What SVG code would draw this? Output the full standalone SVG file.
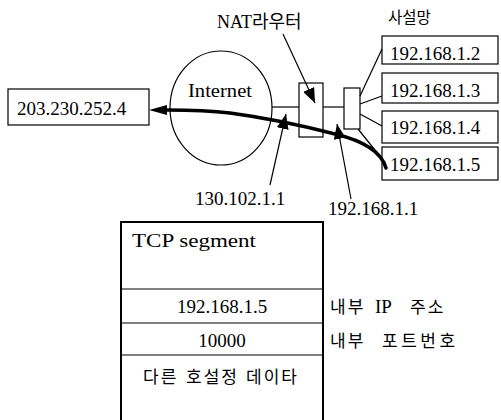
<svg xmlns="http://www.w3.org/2000/svg" width="501" height="420" viewBox="0 0 501 420">
<style>
.bg{fill:#fff}
.box{fill:#fff;stroke:#000;stroke-width:1.2}
.tcp{fill:none;stroke:#000;stroke-width:2}
.sep{stroke:#000;stroke-width:1.2}
.thin{fill:none;stroke:#000;stroke-width:1.2}
.thick{fill:none;stroke:#000;stroke-width:3.5;stroke-linecap:round}
.t{font-family:"Liberation Serif","Times New Roman",serif;font-size:19px;fill:#000}
.k{font-family:"Liberation Serif","Noto Sans CJK KR",sans-serif;font-size:18px;fill:#000}
.k1{font-family:"Noto Sans CJK KR",sans-serif;font-size:15.5px;fill:#000}
.k2{font-family:"Liberation Serif","Noto Sans CJK KR",sans-serif;font-size:17px;letter-spacing:2px;fill:#000}
.ip{font-size:19px;letter-spacing:0}
.wide{letter-spacing:3.5px}
</style>
<defs>
<marker id="ah" markerWidth="15" markerHeight="12" refX="15" refY="6" orient="auto" markerUnits="userSpaceOnUse"><path d="M0,0 L15,6 L0,12 z" fill="#000"/></marker>
<marker id="ahb" markerWidth="18" markerHeight="10" refX="0" refY="5" orient="auto" markerUnits="userSpaceOnUse"><path d="M0,0 L18,5 L0,10 z" fill="#000"/></marker>
</defs>
<rect class="bg" x="0" y="0" width="501" height="420"/>

<g id="internet">
<ellipse class="box" cx="221" cy="108" rx="51" ry="57"/>
<text class="t" x="188" y="97" textLength="64" lengthAdjust="spacingAndGlyphs">Internet</text>
</g>
<g id="host-remote">
<rect class="box" x="8" y="89" width="141" height="36"/>
<text class="t" x="17" y="115">203.230.252.4</text>
</g>
<g id="nat-router">
<rect class="box" x="299" y="83" width="24" height="54"/>
<text class="k" x="217" y="28">NAT라우터</text>
</g>
<g id="hub">
<rect class="box" x="344" y="88" width="16" height="41"/>
</g>
<g id="private-label">
<text class="k1" x="388" y="23">사설망</text>
</g>
<g id="host-2">
<rect class="box" x="382" y="36" width="116" height="28"/>
<text class="t" x="390" y="60">192.168.1.2</text>
</g>
<g id="host-3">
<rect class="box" x="382" y="73" width="116" height="30"/>
<text class="t" x="390" y="97">192.168.1.3</text>
</g>
<g id="host-4">
<rect class="box" x="382" y="111" width="116" height="32"/>
<text class="t" x="390" y="134">192.168.1.4</text>
</g>
<g id="host-5">
<rect class="box" x="382" y="147" width="116" height="33"/>
<text class="t" x="390" y="171">192.168.1.5</text>
</g>
<g id="label-public">
<text class="t" x="195" y="205">130.102.1.1</text>
</g>
<g id="label-private">
<text class="t" x="328" y="215">192.168.1.1</text>
</g>

<g id="connectors">
<line class="thin" x1="272" y1="107" x2="299" y2="107"/>
<line class="thin" x1="323" y1="107" x2="344" y2="107"/>
<line class="thin" x1="360" y1="96" x2="382" y2="49"/>
<line class="thin" x1="360" y1="104" x2="382" y2="96"/>
<line class="thin" x1="360" y1="114" x2="382" y2="126"/>
<line class="thin" x1="358" y1="129" x2="383" y2="160"/>
<line class="thin" x1="283" y1="34" x2="315" y2="103" marker-end="url(#ah)"/>
<line class="thin" x1="270" y1="185" x2="286" y2="114" marker-end="url(#ah)"/>
<line class="thin" x1="351" y1="199" x2="337" y2="124" marker-end="url(#ah)"/>
<path class="thick" d="M386,168 C381,150 360,140 335,134 C300,125 260,117 230,113 C205,110 185,110 167,110" marker-end="url(#ahb)"/>
</g>

<g id="tcp-segment">
<rect class="tcp" x="121" y="222" width="202" height="210"/>
<line class="sep" x1="121" y1="289" x2="323" y2="289"/>
<line class="sep" x1="121" y1="323" x2="323" y2="323"/>
<line class="sep" x1="121" y1="355" x2="323" y2="355"/>
<text class="t" x="132" y="247" textLength="124" lengthAdjust="spacingAndGlyphs">TCP  segment</text>
<text class="t" x="222" y="313" text-anchor="middle">192.168.1.5</text>
<text class="t" x="222" y="347" text-anchor="middle">10000</text>
<text class="k2" y="383"><tspan x="143">다른</tspan><tspan x="186">호설정</tspan><tspan x="246">데이타</tspan></text>
<text class="k2" y="313"><tspan x="330">내부</tspan><tspan x="375" class="ip">IP</tspan><tspan x="410">주소</tspan></text>
<text class="k2" y="347"><tspan x="330">내부</tspan><tspan x="382" class="wide">포트번호</tspan></text>
</g>
</svg>
